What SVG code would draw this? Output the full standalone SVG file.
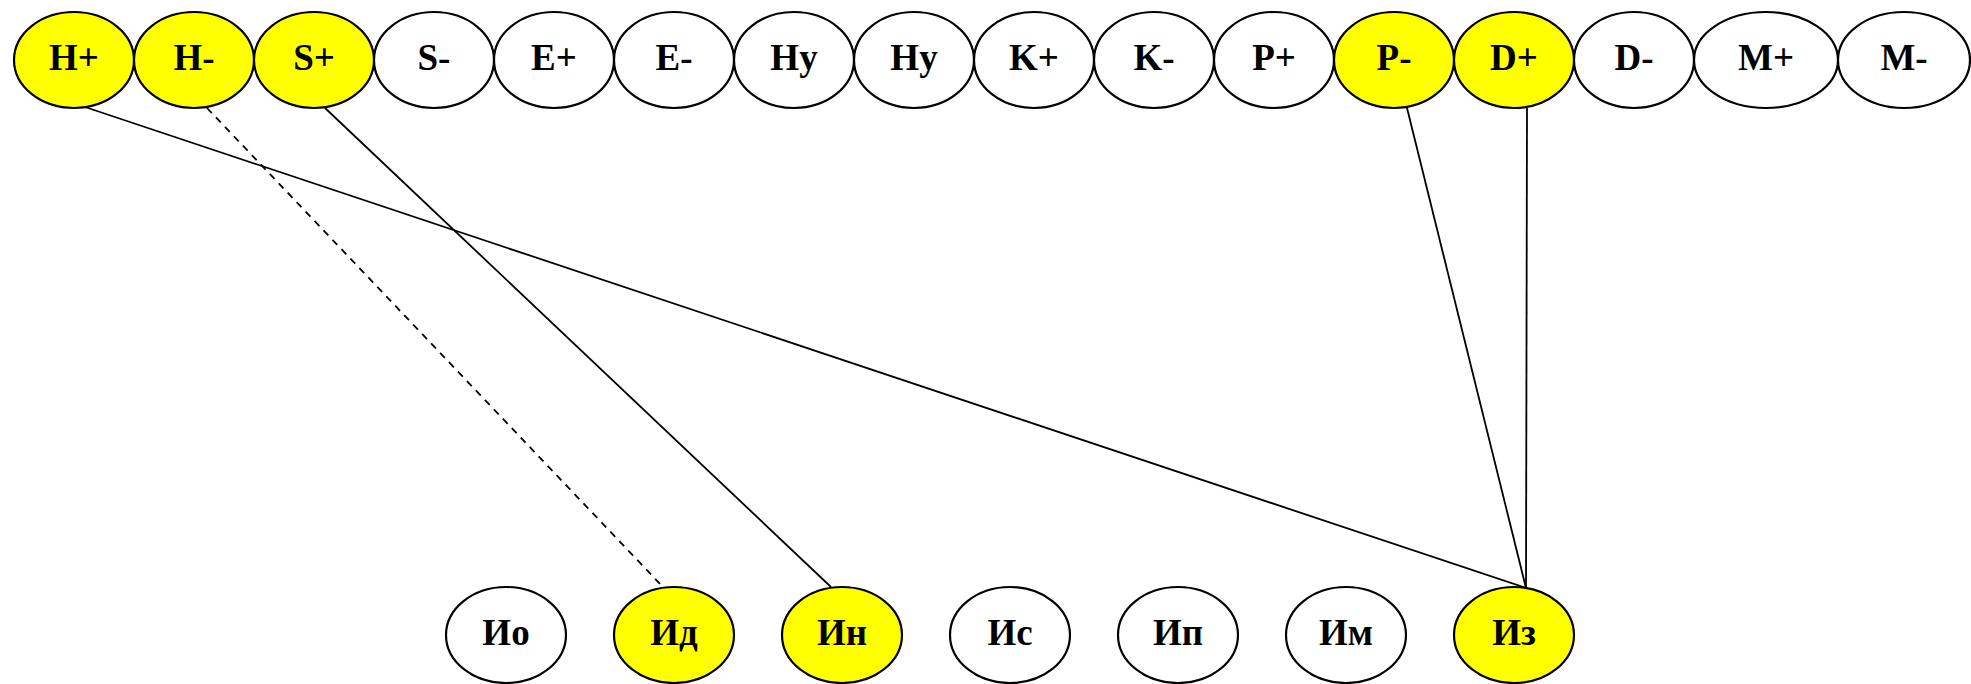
<svg xmlns="http://www.w3.org/2000/svg" width="1971" height="684" viewBox="0 0 1971 684">
<style>
.n ellipse{stroke:#000;stroke-width:2.2;fill:#fff}
.n.y ellipse{fill:#ffff00}
.n text{font-family:"Liberation Serif","Times New Roman",serif;font-weight:bold;font-size:37px;text-anchor:middle;fill:#000}
.e line{stroke:#000;stroke-width:1.8;fill:none}
.e line.d{stroke-dasharray:7,6}
</style>
<rect width="1971" height="684" fill="#fff"/>
<g id="edges" class="e">
<line x1="85" y1="107" x2="1526" y2="588"/>
<line class="d" x1="207" y1="108" x2="663" y2="587"/>
<line x1="325" y1="108" x2="831" y2="587"/>
<line x1="1407" y1="108" x2="1526" y2="588"/>
<line x1="1527" y1="108" x2="1526" y2="588"/>
</g>
<g id="Hp" class="n y"><ellipse cx="74" cy="60" rx="60" ry="48"/><text x="74" y="70">H+</text></g>
<g id="Hm" class="n y"><ellipse cx="194" cy="60" rx="60" ry="48"/><text x="194" y="70">H-</text></g>
<g id="Sp" class="n y"><ellipse cx="314" cy="60" rx="60" ry="48"/><text x="314" y="70">S+</text></g>
<g id="Sm" class="n"><ellipse cx="434" cy="60" rx="60" ry="48"/><text x="434" y="70">S-</text></g>
<g id="Ep" class="n"><ellipse cx="554" cy="60" rx="60" ry="48"/><text x="554" y="70">E+</text></g>
<g id="Em" class="n"><ellipse cx="674" cy="60" rx="60" ry="48"/><text x="674" y="70">E-</text></g>
<g id="Hy1" class="n"><ellipse cx="794" cy="60" rx="60" ry="48"/><text x="794" y="70">Hy</text></g>
<g id="Hy2" class="n"><ellipse cx="914" cy="60" rx="60" ry="48"/><text x="914" y="70">Hy</text></g>
<g id="Kp" class="n"><ellipse cx="1034" cy="60" rx="60" ry="48"/><text x="1034" y="70">K+</text></g>
<g id="Km" class="n"><ellipse cx="1154" cy="60" rx="60" ry="48"/><text x="1154" y="70">K-</text></g>
<g id="Pp" class="n"><ellipse cx="1274" cy="60" rx="60" ry="48"/><text x="1274" y="70">P+</text></g>
<g id="Pm" class="n y"><ellipse cx="1394" cy="60" rx="60" ry="48"/><text x="1394" y="70">P-</text></g>
<g id="Dp" class="n y"><ellipse cx="1514" cy="60" rx="60" ry="48"/><text x="1514" y="70">D+</text></g>
<g id="Dm" class="n"><ellipse cx="1634" cy="60" rx="60" ry="48"/><text x="1634" y="70">D-</text></g>
<g id="Mp" class="n"><ellipse cx="1766" cy="60" rx="72" ry="48"/><text x="1766" y="70">M+</text></g>
<g id="Mm" class="n"><ellipse cx="1904" cy="60" rx="66" ry="48"/><text x="1904" y="70">M-</text></g>
<g id="Io" class="n"><ellipse cx="506" cy="635" rx="60" ry="48"/><text x="506" y="645">Ио</text></g>
<g id="Id" class="n y"><ellipse cx="674" cy="635" rx="60" ry="48"/><text x="674" y="645">Ид</text></g>
<g id="In" class="n y"><ellipse cx="842" cy="635" rx="60" ry="48"/><text x="842" y="645">Ин</text></g>
<g id="Is" class="n"><ellipse cx="1010" cy="635" rx="60" ry="48"/><text x="1010" y="645">Ис</text></g>
<g id="Ip" class="n"><ellipse cx="1178" cy="635" rx="60" ry="48"/><text x="1178" y="645">Ип</text></g>
<g id="Im" class="n"><ellipse cx="1346" cy="635" rx="60" ry="48"/><text x="1346" y="645">Им</text></g>
<g id="Iz" class="n y"><ellipse cx="1514" cy="635" rx="60" ry="48"/><text x="1514" y="645">Из</text></g>
</svg>
